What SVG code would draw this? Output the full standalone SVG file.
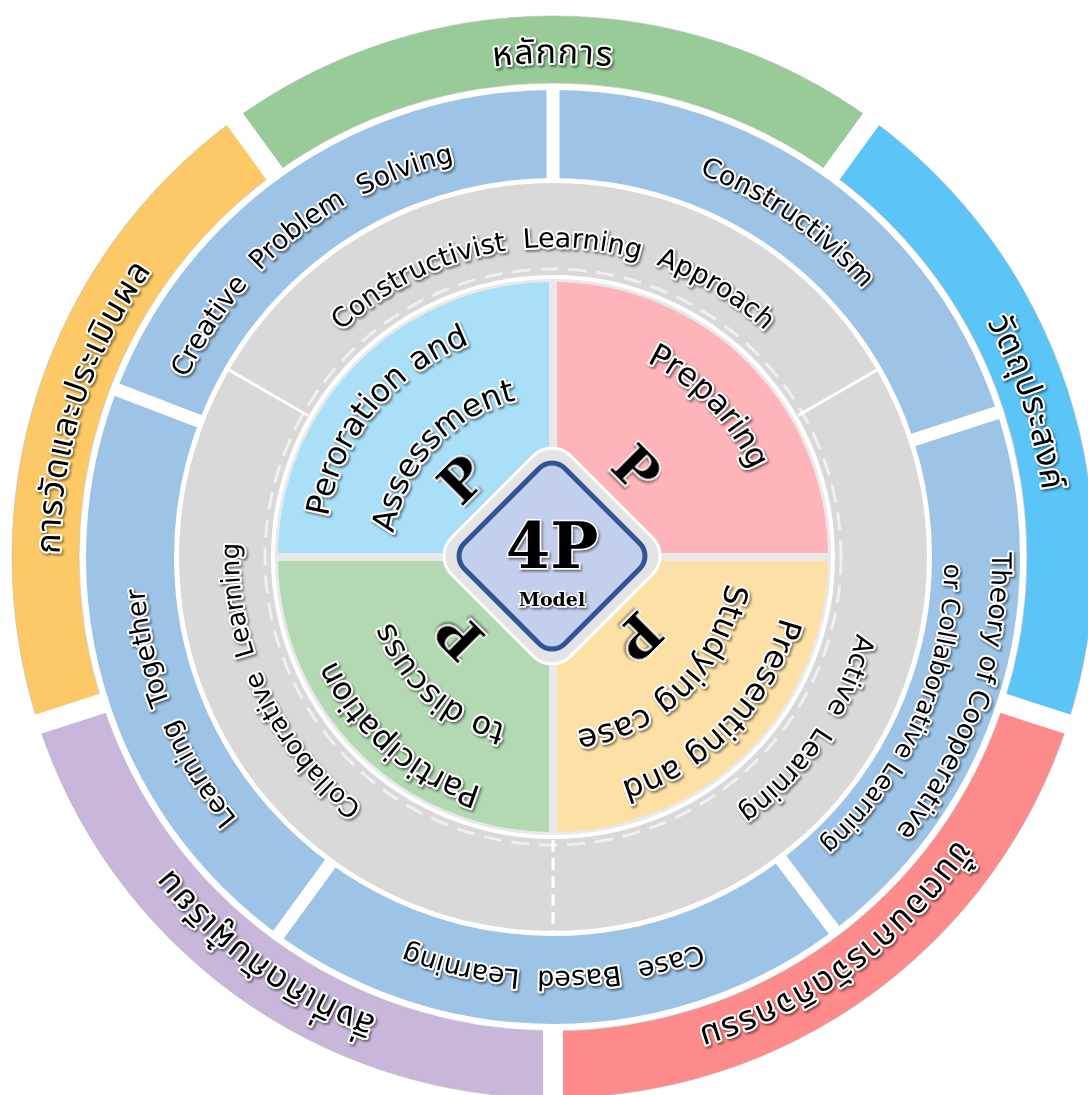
<svg xmlns="http://www.w3.org/2000/svg" width="1088" height="1095" viewBox="0 0 1088 1095">
<defs>
<style>
.t{font-family:"DejaVu Sans","Noto Sans",sans-serif;fill:#000;stroke:#fff;stroke-width:4;stroke-linejoin:round;paint-order:stroke;filter:url(#sh);}
.th{font-family:"Noto Sans Thai","Noto Sans Thai UI","Loma","Garuda","Tlwg Typo","Noto Sans","DejaVu Sans",sans-serif;font-size:34px;letter-spacing:1.5px;fill:#000;stroke:#fff;stroke-width:4;stroke-linejoin:round;paint-order:stroke;filter:url(#sh);}
.bp{font-family:"DejaVu Serif","Liberation Serif",serif;font-weight:bold;fill:#000;stroke:#fff;stroke-width:3;paint-order:stroke;filter:url(#sh);}
.seg{stroke:#b8b8b8;stroke-opacity:.6;stroke-width:1;}
.gap{stroke:#fff;stroke-linecap:butt;}
</style>
<filter id="sh" x="-20%" y="-20%" width="140%" height="140%"><feDropShadow dx="1.5" dy="2" stdDeviation="1.2" flood-color="#000" flood-opacity="0.45"/></filter>
<path id="pA" d="M 553,1051 A 494 494 0 0 1 553,63 A 494 494 0 0 1 553,1051"/>
<path id="pB" d="M 83.2,709.7 A 494 494 0 0 1 1022.8,404.3 A 494 494 0 0 1 83.2,709.7"/>
<path id="pC" d="M 262.6,157.4 A 494 494 0 0 1 843.4,956.6 A 494 494 0 0 1 262.6,157.4"/>
<path id="pD" d="M 843.4,157.4 A 494 494 0 0 1 262.6,956.6 A 494 494 0 0 1 843.4,157.4"/>
<path id="pE" d="M 1022.8,709.7 A 494 494 0 0 1 83.2,404.3 A 494 494 0 0 1 1022.8,709.7"/>
<path id="pF" d="M 811,875.6 A 410 410 0 0 1 295,238.4 A 410 410 0 0 1 811,875.6"/>
<path id="pG" d="M 317.8,892.9 A 410 410 0 0 1 788.2,221.1 A 410 410 0 0 1 317.8,892.9"/>
<path id="pH" d="M 137,413.7 A 440 440 0 0 1 969,700.3 A 440 440 0 0 1 137,413.7"/>
<path id="pI" d="M 193.1,396.8 A 394 394 0 0 1 912.9,717.2 A 394 394 0 0 1 193.1,396.8"/>
<path id="pJ" d="M 553,143 A 414 414 0 0 1 553,971 A 414 414 0 0 1 553,143"/>
<path id="pK" d="M 933.2,403.4 A 410 410 0 0 1 172.8,710.6 A 410 410 0 0 1 933.2,403.4"/>
<path id="pL" d="M 553,867 A 310 310 0 0 1 553,247 A 310 310 0 0 1 553,867"/>
<path id="pM" d="M 292.7,381.4 A 314 314 0 0 1 813.3,732.6 A 314 314 0 0 1 292.7,381.4"/>
<path id="pN" d="M 837.6,424.3 A 314 314 0 0 1 268.4,689.7 A 314 314 0 0 1 837.6,424.3"/>
<path id="pO" d="M 730.7,703 A 230 230 0 0 1 375.3,411 A 230 230 0 0 1 730.7,703"/>
<path id="pP" d="M 671.5,666 A 161 161 0 0 1 434.5,448 A 161 161 0 0 1 671.5,666"/>
<path id="pQ" d="M 397.6,707.1 A 216 216 0 0 1 708.4,406.9 A 216 216 0 0 1 397.6,707.1"/>
<path id="pR" d="M 384,393.7 A 235 235 0 0 1 722,720.3 A 235 235 0 0 1 384,393.7"/>
<path id="pS" d="M 430.3,432.2 A 175 175 0 0 1 675.7,681.8 A 175 175 0 0 1 430.3,432.2"/>
<path id="pT" d="M 711.1,375.1 A 241 241 0 0 1 394.9,738.9 A 241 241 0 0 1 711.1,375.1"/>
<path id="pU" d="M 670.1,427 A 175 175 0 0 1 435.9,687 A 175 175 0 0 1 670.1,427"/>
</defs>
<rect width="1088" height="1095" fill="#fff"/>

<g id="outer-ring">
<g id="seg-principle"><path class="seg" fill="#98cb98" d="M 235,119.3 A 541 541 0 0 1 871,119.3 L 831.6,173.5 A 474 474 0 0 0 274.4,173.5 Z"/><text class="th" text-anchor="middle"><textPath href="#pA" startOffset="50%">หลักการ</textPath></text></g>
<g id="seg-objective"><path class="seg" fill="#5cc5f7" d="M 871,119.3 A 541 541 0 0 1 1067.5,724.2 L 1003.8,703.5 A 474 474 0 0 0 831.6,173.5 Z"/><text class="th" text-anchor="middle"><textPath href="#pB" startOffset="50%">วัตถุประสงค์</textPath></text></g>
<g id="seg-steps"><path class="seg" fill="#fe8b8b" d="M 1067.5,724.2 A 541 541 0 0 1 553,1098 L 553,1031 A 474 474 0 0 0 1003.8,703.5 Z"/><text class="th" text-anchor="middle"><textPath href="#pC" startOffset="50%">ขั้นตอนการจัดกิจกรรม</textPath></text></g>
<g id="seg-outcome"><path class="seg" fill="#c9b6db" d="M 553,1098 A 541 541 0 0 1 38.5,724.2 L 102.2,703.5 A 474 474 0 0 0 553,1031 Z"/><text class="th" text-anchor="middle"><textPath href="#pD" startOffset="50%">สิ่งที่เกิดกับผู้เรียน</textPath></text></g>
<g id="seg-assessment"><path class="seg" fill="#fdc966" d="M 38.5,724.2 A 541 541 0 0 1 235,119.3 L 274.4,173.5 A 474 474 0 0 0 102.2,703.5 Z"/><text class="th" text-anchor="middle"><textPath href="#pE" startOffset="50%">การวัดและประเมินผล</textPath></text></g>
</g>
<g id="outer-gaps" class="gap" stroke-width="20">
<line x1="826.9" y1="180" x2="875.1" y2="113.7"/>
<line x1="996.2" y1="701" x2="1074.2" y2="726.3"/>
<line x1="553" y1="1023" x2="553" y2="1105"/>
<line x1="109.8" y1="701" x2="31.8" y2="726.3"/>
<line x1="279.1" y1="180" x2="230.9" y2="113.7"/>
</g>

<g id="blue-ring">
<circle cx="553" cy="557" r="423" fill="none" stroke="#9dc3e6" stroke-width="88"/>
<g class="gap" stroke-width="13">
<line x1="553" y1="182" x2="553" y2="87"/>
<line x1="909.7" y1="441.1" x2="1000" y2="411.8"/>
<line x1="778.7" y1="856.5" x2="835.8" y2="932.3"/>
<line x1="332.6" y1="860.4" x2="276.7" y2="937.2"/>
<line x1="202.9" y1="422.6" x2="114.2" y2="388.6"/>
</g>
<g id="creative-problem-solving"><text class="t" font-size="27" text-anchor="middle"><textPath href="#pF" startOffset="50%" xml:space="preserve">Creative  Problem  Solving</textPath></text></g>
<g id="constructivism"><text class="t" font-size="27" text-anchor="middle"><textPath href="#pG" startOffset="50%">Constructivism</textPath></text></g>
<g id="cooperative-learning"><text class="t" font-size="27" text-anchor="middle"><textPath href="#pH" startOffset="50%">Theory of Cooperative</textPath></text><text class="t" font-size="25" text-anchor="middle"><textPath href="#pI" startOffset="50%">or Collaborative Learning</textPath></text></g>
<g id="case-based-learning"><text class="t" font-size="27" text-anchor="middle"><textPath href="#pJ" startOffset="50%" xml:space="preserve">Case  Based  Learning</textPath></text></g>
<g id="learning-together"><text class="t" font-size="27" text-anchor="middle"><textPath href="#pK" startOffset="50%" xml:space="preserve">Learning  Together</textPath></text></g>
</g>

<g id="grey-ring">
<circle cx="553" cy="557" r="374" fill="#d9d9d9"/>
<g class="gap" stroke-width="3">
<line x1="798.1" y1="415.5" x2="876.9" y2="370"/>
<line x1="307.9" y1="415.5" x2="229.1" y2="370"/>
<line x1="553" y1="840" x2="553" y2="931" stroke-dasharray="12 6"/>
</g>
<g id="constructivist-approach"><text class="t" font-size="27" text-anchor="middle"><textPath href="#pL" startOffset="50%" xml:space="preserve">Constructivist  Learning  Approach</textPath></text></g>
<g id="active-learning"><text class="t" font-size="27" text-anchor="middle"><textPath href="#pM" startOffset="50%" xml:space="preserve">Active  Learning</textPath></text></g>
<g id="collaborative-learning"><text class="t" font-size="26" text-anchor="middle"><textPath href="#pN" startOffset="50%" xml:space="preserve">Collaborative  Learning</textPath></text></g>
</g>

<circle cx="553" cy="557" r="280" fill="#e9e9e9" stroke="#fff" stroke-width="4"/>
<circle cx="553" cy="557" r="288" fill="none" stroke="#fff" stroke-width="3" stroke-dasharray="18 10" opacity="0.6"/>

<g id="q-peroration">
<path fill="#aadff8" d="M 549,553 L 278,553 A 275 275 0 0 1 549,282 Z"/>
<text class="t" font-size="32" text-anchor="middle"><textPath href="#pO" startOffset="50%">Peroration and</textPath></text>
<text class="t" font-size="32" text-anchor="middle"><textPath href="#pP" startOffset="50%">Assessment</textPath></text>
<text class="bp" font-size="54" text-anchor="middle" transform="translate(462,480) rotate(-45)" y="19">P</text>
</g>
<g id="q-preparing">
<path fill="#fdb5b9" d="M 557,553 L 557,282 A 275 275 0 0 1 828,553 Z"/>
<text class="t" font-size="32" text-anchor="middle"><textPath href="#pQ" startOffset="50%">Preparing</textPath></text>
<text class="bp" font-size="54" text-anchor="middle" transform="translate(636,469) rotate(45)" y="19">P</text>
</g>
<g id="q-presenting">
<path fill="#fde0a5" d="M 557,561 L 828,561 A 275 275 0 0 1 557,832 Z"/>
<text class="t" font-size="32" text-anchor="middle"><textPath href="#pR" startOffset="50%">Presenting and</textPath></text>
<text class="t" font-size="32" text-anchor="middle"><textPath href="#pS" startOffset="50%">Studying case</textPath></text>
<text class="bp" font-size="54" text-anchor="middle" transform="translate(638,636) rotate(135)" y="19">P</text>
</g>
<g id="q-participation">
<path fill="#b3d9b2" d="M 549,561 L 549,832 A 275 275 0 0 1 278,561 Z"/>
<text class="t" font-size="32" text-anchor="middle"><textPath href="#pT" startOffset="50%">Participation</textPath></text>
<text class="t" font-size="32" text-anchor="middle"><textPath href="#pU" startOffset="50%">to discuss</textPath></text>
<text class="bp" font-size="54" text-anchor="middle" transform="translate(460,636) rotate(-135)" y="19">P</text>
</g>

<g id="center-4p">
<rect x="-84" y="-84" width="168" height="168" rx="26" fill="#e4e4e4" stroke="#fff" stroke-width="3" transform="translate(552,556) rotate(45)"/>
<rect x="-71" y="-71" width="142" height="142" rx="18" fill="#c3cfec" stroke="#2f5597" stroke-width="5" transform="translate(552,556) rotate(45)"/>
<text class="bp" x="552" y="568" font-size="64" text-anchor="middle">4P</text>
<text class="bp" x="552" y="606" font-size="19" text-anchor="middle">Model</text>
</g>
<g id="connectors"/>
</svg>
